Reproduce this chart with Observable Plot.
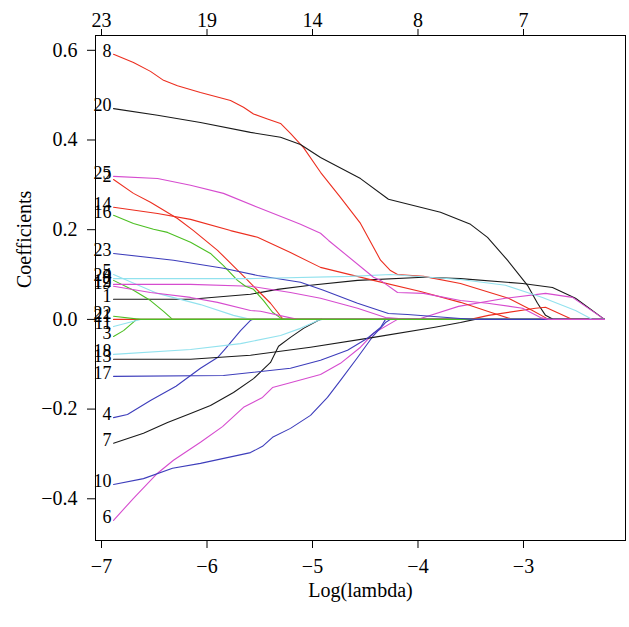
<!DOCTYPE html>
<html>
<head>
<meta charset="utf-8">
<script src="https://cdn.jsdelivr.net/npm/d3@7"></script>
<script src="https://cdn.jsdelivr.net/npm/@observablehq/plot@0.6"></script>
<style>
  html, body { margin: 0; padding: 0; background: white; }
  svg text { font-family: "Liberation Serif", "DejaVu Serif", serif; }
</style>
</head>
<body>
<div id="chart"></div>
<script>
// Axis ticks
const logLambdaTicks = [-7, -6, -5, -4, -3];
const dfLabels = ["23", "19", "14", "8", "7"];
const coefTicks = [-0.4, -0.2, 0, 0.2, 0.4, 0.6];

// Variables with nonzero paths (15 never enters)
const varIds = [1,2,3,4,5,6,7,8,9,10,11,12,13,14,16,17,18,19,20,21,22,23,24,25];
const palette = ["#1a1a1a", "#ec2e1f", "#4cbf22", "#3d3dbb", "#92e2ee", "#d64ccf"];

// Coefficient paths: [log(lambda), coefficient]
const b1 = [[-6.886,0.045],[-6.156,0.045],[-5.588,0.056],[-5.332,0.067],[-5.019,0.076],[-4.573,0.087],[-3.948,0.094],[-3.597,0.091],[-3.009,0.080],[-2.725,0.071],[-2.507,0.047],[-2.232,0]];
const b2 = [[-6.886,0.312],[-6.697,0.281],[-6.536,0.261],[-6.280,0.225],[-6.128,0.198],[-5.900,0.154],[-5.682,0.103],[-5.521,0.065],[-5.398,0.036],[-5.284,0.002],[-5.256,0],[-2.232,0]];
const b3 = [[-6.886,-0.038],[-6.791,-0.025],[-6.678,-0.002],[-6.659,0],[-2.232,0]];
const b4 = [[-6.886,-0.219],[-6.754,-0.212],[-6.536,-0.181],[-6.294,-0.149],[-6.062,-0.109],[-5.900,-0.085],[-5.825,-0.065],[-5.682,-0.025],[-5.588,-0.002],[-5.569,0],[-2.232,0]];
const b5 = [[-6.886,0.100],[-6.469,0.058],[-6.062,0.033],[-5.749,0.009],[-5.588,0],[-2.232,0]];
const b6 = [[-6.886,-0.448],[-6.697,-0.399],[-6.469,-0.343],[-6.318,-0.314],[-6.062,-0.274],[-5.853,-0.239],[-5.654,-0.196],[-5.474,-0.174],[-5.379,-0.152],[-5.237,-0.143],[-4.924,-0.123],[-4.735,-0.098],[-4.545,-0.062],[-4.422,-0.031],[-4.194,0],[-2.232,0]];
const b7 = [[-6.886,-0.276],[-6.602,-0.254],[-6.374,-0.230],[-6.156,-0.210],[-5.967,-0.192],[-5.749,-0.163],[-5.559,-0.132],[-5.398,-0.096],[-5.322,-0.060],[-5.209,-0.040],[-5.085,-0.020],[-4.943,-0.002],[-4.924,0],[-2.232,0]];
const b8 = [[-6.886,0.591],[-6.697,0.573],[-6.536,0.553],[-6.412,0.533],[-6.280,0.521],[-6.062,0.506],[-5.777,0.488],[-5.654,0.473],[-5.559,0.458],[-5.427,0.447],[-5.303,0.437],[-5.209,0.415],[-5.085,0.383],[-4.924,0.328],[-4.735,0.272],[-4.545,0.214],[-4.355,0.132],[-4.261,0.109],[-4.194,0.100],[-3.948,0.096],[-3.597,0.080],[-3.142,0.047],[-2.915,0.020],[-2.763,0],[-2.232,0]];
const b9 = [[-6.886,0.087],[-6.697,0.065],[-6.536,0.042],[-6.412,0.018],[-6.327,0],[-2.232,0]];
const b10 = [[-6.886,-0.368],[-6.602,-0.355],[-6.327,-0.332],[-6.062,-0.321],[-5.588,-0.297],[-5.474,-0.283],[-5.379,-0.263],[-5.209,-0.243],[-5.019,-0.214],[-4.858,-0.174],[-4.735,-0.136],[-4.573,-0.085],[-4.422,-0.036],[-4.308,-0.007],[-4.261,0],[-2.232,0]];
const b11 = [[-6.886,-0.016],[-6.659,-0.002],[-6.630,0],[-2.232,0]];
const b12 = [[-6.886,0.078],[-6.156,0.078],[-5.588,0.074],[-5.209,0.060],[-4.924,0.047],[-4.573,0.025],[-4.308,0.004],[-4.118,0.001],[-3.976,0.002],[-3.616,0.029],[-3.171,0.047],[-2.791,0.058],[-2.536,0.049],[-2.232,0]];
const b13 = [[-6.886,-0.089],[-6.156,-0.089],[-5.588,-0.080],[-5.019,-0.062],[-4.422,-0.040],[-3.853,-0.018],[-3.597,-0.007],[-3.460,0],[-2.232,0]];
const b14 = [[-6.886,0.250],[-6.469,0.236],[-6.156,0.223],[-5.777,0.198],[-5.521,0.183],[-5.209,0.149],[-4.924,0.116],[-4.422,0.087],[-3.976,0.062],[-3.597,0.038],[-3.313,0.016],[-3.104,0],[-2.232,0]];
const b16 = [[-6.886,0.232],[-6.697,0.214],[-6.507,0.201],[-6.374,0.194],[-6.156,0.172],[-5.967,0.147],[-5.844,0.120],[-5.711,0.087],[-5.635,0.074],[-5.559,0.067],[-5.464,0.042],[-5.379,0.016],[-5.284,0],[-2.232,0]];
const b17 = [[-6.886,-0.127],[-5.844,-0.125],[-5.209,-0.109],[-4.924,-0.091],[-4.668,-0.069],[-4.479,-0.042],[-4.355,-0.018],[-4.308,0],[-2.232,0]];
const b18 = [[-6.886,-0.078],[-6.156,-0.067],[-5.682,-0.054],[-5.303,-0.036],[-5.114,-0.020],[-4.943,-0.002],[-4.905,0],[-2.232,0]];
const b19 = [[-6.886,0.074],[-6.536,0.060],[-6.156,0.049],[-5.900,0.038],[-5.588,0.020],[-5.493,0.018],[-5.142,0],[-2.232,0]];
const b20 = [[-6.886,0.470],[-6.469,0.455],[-6.062,0.439],[-5.588,0.417],[-5.303,0.406],[-5.114,0.390],[-4.924,0.361],[-4.545,0.314],[-4.280,0.268],[-4.043,0.254],[-3.787,0.239],[-3.502,0.212],[-3.341,0.183],[-3.152,0.132],[-2.962,0.076],[-2.867,0.036],[-2.791,0.009],[-2.716,0],[-2.232,0]];
const b21 = [[-6.886,0],[-3.502,0],[-3.332,0.009],[-2.886,0.025],[-2.791,0.027],[-2.536,0],[-2.232,0]];
const b22 = [[-6.886,0.007],[-6.630,0],[-2.232,0]];
const b23 = [[-6.886,0.147],[-6.318,0.132],[-5.844,0.114],[-5.521,0.098],[-5.114,0.083],[-4.896,0.065],[-4.573,0.036],[-4.280,0.013],[-4.100,0.011],[-3.597,0.002],[-3.460,0],[-2.232,0]];
const b24 = [[-6.886,0.091],[-5.588,0.091],[-4.640,0.096],[-4.261,0.100],[-3.597,0.089],[-3.171,0.076],[-2.820,0.049],[-2.507,0.020],[-2.346,0],[-2.232,0]];
const b25 = [[-6.886,0.319],[-6.469,0.314],[-6.156,0.299],[-5.844,0.281],[-5.521,0.250],[-5.209,0.221],[-5.114,0.212],[-4.924,0.192],[-4.848,0.176],[-4.422,0.094],[-4.355,0.087],[-4.194,0.060],[-3.948,0.058],[-3.597,0.042],[-3.341,0.036],[-3.009,0.025],[-2.839,0.004],[-2.763,0],[-2.232,0]];

const paths = [b1,b2,b3,b4,b5,b6,b7,b8,b9,b10,b11,b12,b13,b14,b16,b17,b18,b19,b20,b21,b22,b23,b24,b25];

const rows = paths.flatMap((pts, k) => pts.map(([L, C]) => ({id: varIds[k], k, L, C})));
const labelRows = paths.map((pts, k) => ({id: varIds[k], L: pts[0][0], C: pts[0][1]}));
const colorOf = k => palette[k % palette.length];

const chart = Plot.plot({
  width: 629,
  height: 627,
  marginLeft: 95,
  marginRight: 4,
  marginTop: 35,
  marginBottom: 87,
  x: {domain: [-7.057, -2.033]},
  y: {domain: [-0.493, 0.633]},
  style: {fontFamily: "Liberation Serif, DejaVu Serif, serif", fontSize: "20px", color: "black", background: "white"},
  marks: [
    Plot.line(rows, {x: "L", y: "C", z: "id", stroke: d => colorOf(d.k), strokeWidth: 1.1}),
    Plot.text(labelRows, {x: "L", y: "C", text: d => String(d.id), textAnchor: "end", dx: -2, dy: -3, fontSize: 18, fill: "black"}),
    Plot.frame({stroke: "black", strokeWidth: 1}),
    Plot.axisX({anchor: "bottom", ticks: logLambdaTicks, tickSize: 8, tickPadding: 10, fontSize: 20, tickFormat: d3.format("d"), label: null}),
    Plot.axisX({anchor: "top", ticks: logLambdaTicks, tickSize: 7, tickPadding: 2, fontSize: 20, tickFormat: d => dfLabels[logLambdaTicks.indexOf(d)], label: null}),
    Plot.axisY({ticks: coefTicks, tickSize: 8, tickPadding: 10, fontSize: 20, tickFormat: d3.format(".1f"), label: null}),
    Plot.text(["Log(lambda)"], {frameAnchor: "bottom", text: d => d, dy: 56, fontSize: 20, fill: "black"}),
    Plot.text(["Coefficients"], {frameAnchor: "left", text: d => d, rotate: -90, dx: -71, fontSize: 20, fill: "black"})
  ]
});
document.getElementById("chart").appendChild(chart);
</script>
</body>
</html>
